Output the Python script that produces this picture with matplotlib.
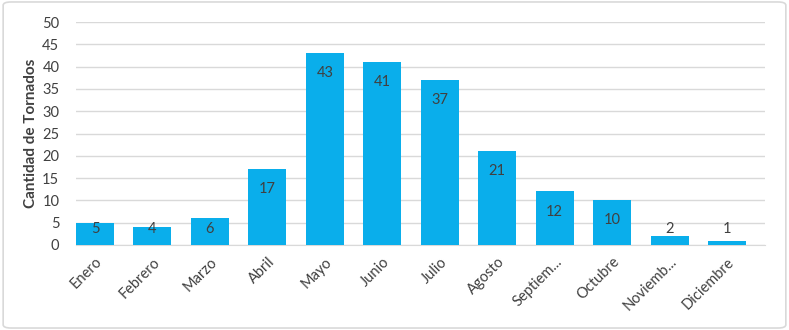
import matplotlib.pyplot as plt
from matplotlib.patches import FancyBboxPatch

meses = ['Enero', 'Febrero', 'Marzo', 'Abril', 'Mayo', 'Junio', 'Julio',
         'Agosto', 'Septiem...', 'Octubre', 'Noviemb...', 'Diciembre']
tornados = [5, 4, 6, 17, 43, 41, 37, 21, 12, 10, 2, 1]
y_ticks = [0, 5, 10, 15, 20, 25, 30, 35, 40, 45, 50]

plt.rcParams['font.family'] = ['Lato', 'DejaVu Sans']

fig = plt.figure(figsize=(7.89, 3.30), dpi=100)
ax = fig.add_axes([0.0963, 0.2576, 0.8733, 0.6757])

# marco gris alrededor del grafico
fig.patches.append(FancyBboxPatch((0.004, 0.006), 0.992, 0.988,
                                  boxstyle='round,pad=0,rounding_size=0.01',
                                  transform=fig.transFigure, fill=False,
                                  edgecolor='#d9d9d9', linewidth=1.2))

x = range(len(meses))
ax.bar(x, tornados, width=0.66, color='#0aaeeb', zorder=3)

# etiquetas de valor (dentro del extremo, o abajo si la barra es corta)
for i, v in enumerate(tornados):
    ax.text(i, max(v - 4.5, 3.6), str(v), ha='center', va='center',
            fontsize=10.5, color='#404040', zorder=4)

ax.set_xlim(-0.33, 11.66)
ax.set_ylim(0, 50)
ax.set_yticks(y_ticks)
ax.set_xticks(list(x))
ax.set_xticklabels(meses, rotation=45, ha='right', rotation_mode='anchor')
ax.tick_params(axis='both', length=0, labelsize=10.5, colors='#404040')
ax.tick_params(axis='y', pad=12)
ax.tick_params(axis='x', pad=7)
ax.grid(axis='y', color='#d9d9d9', linewidth=1, zorder=0)
for s in ['top', 'right', 'left']:
    ax.spines[s].set_visible(False)
ax.spines['bottom'].set_color('#d9d9d9')

ax.set_ylabel('Cantidad de Tornados', fontsize=11, fontweight='bold',
              color='#404040', labelpad=3)

fig.savefig('out.png', dpi=100)
